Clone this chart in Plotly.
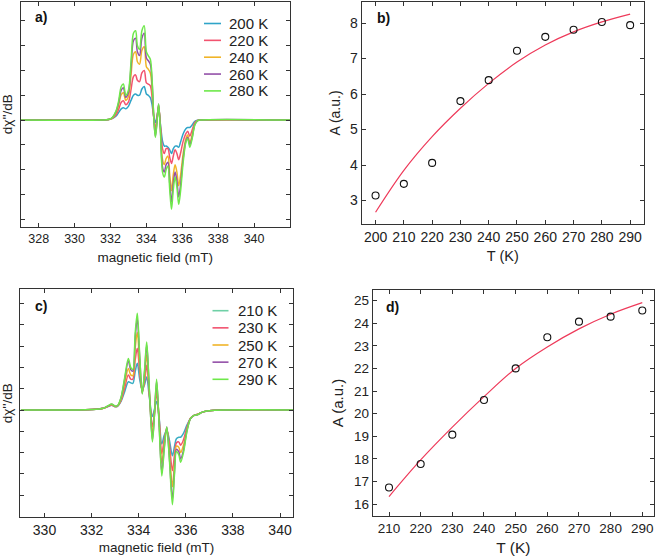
import plotly.graph_objects as go

# ---------- panel a: EPR spectra ----------
field_a = [327.0, 331.5, 331.9, 332.1, 332.3, 332.45, 332.6, 332.72, 332.85, 333.0, 333.15,
           333.28, 333.4, 333.5, 333.62, 333.75, 333.88, 334.0, 334.1, 334.22, 334.32, 334.42,
           334.5, 334.58, 334.68, 334.78, 334.9, 335.0, 335.1, 335.2, 335.3, 335.4, 335.5,
           335.6, 335.7, 335.8, 335.9, 336.05, 336.2, 336.3, 336.42, 336.55, 336.7, 336.85,
           337.0, 342.0]
a_200 = [0, 0, 0.02, 0.06, 0.15, 0.3, 0.45, 0.5, 0.45, 0.55, 0.8, 1.0, 1.05, 1.0, 1.0, 1.25,
         1.35, 1.05, 1.0, 0.9, 0.6, 0.1, -0.1, 0.1, 0.45, -0.15, -0.85, -1.05, -1.05, -1.1,
         -1.2, -1.35, -1.15, -1.05, -1.05, -1.1, -0.9, -0.55, -0.35, -0.3, -0.3, -0.2, -0.05,
         -0.01, 0, 0]
a_220 = [0, 0, 0.02, 0.07, 0.2, 0.42, 0.72, 0.78, 0.62, 0.72, 1.25, 1.75, 1.82, 1.6, 1.55,
         1.9, 2.0, 1.5, 1.45, 1.38, 0.9, 0.05, -0.35, 0.0, 0.55, -0.2, -1.15, -1.35, -1.15,
         -1.15, -1.5, -1.75, -1.45, -1.2, -1.35, -1.6, -1.35, -0.85, -0.55, -0.45, -0.65,
         -0.4, -0.1, -0.02, 0, 0]
a_240 = [0, 0, 0.02, 0.08, 0.27, 0.58, 1.02, 1.1, 0.8, 0.95, 1.85, 2.65, 2.75, 2.35, 2.25,
         2.8, 2.95, 2.15, 2.05, 1.9, 1.25, 0.0, -0.55, -0.1, 0.6, -0.3, -1.6, -1.8, -1.55,
         -1.45, -2.2, -2.85, -2.2, -1.8, -2.1, -2.65, -2.25, -1.35, -0.75, -0.6, -0.9, -0.6,
         -0.15, -0.02, 0, 0]
a_260 = [0, 0, 0.02, 0.09, 0.32, 0.68, 1.2, 1.3, 0.92, 1.1, 2.2, 3.2, 3.3, 2.75, 2.6, 3.3,
         3.5, 2.5, 2.4, 2.25, 1.5, 0.0, -0.65, -0.15, 0.65, -0.35, -1.9, -2.1, -1.8, -1.7,
         -2.55, -3.3, -2.55, -2.1, -2.45, -3.1, -2.65, -1.55, -0.85, -0.7, -1.0, -0.7, -0.18,
         -0.03, 0, 0]
a_280 = [0, 0, 0.02, 0.1, 0.35, 0.75, 1.35, 1.45, 1.0, 1.2, 2.4, 3.5, 3.6, 3.0, 2.85, 3.6,
         3.8, 2.75, 2.6, 2.45, 1.6, 0.0, -0.7, -0.2, 0.65, -0.4, -2.1, -2.3, -2.0, -1.85, -2.8,
         -3.6, -2.8, -2.3, -2.7, -3.4, -2.9, -1.7, -0.9, -0.75, -1.1, -0.75, -0.2, -0.03, 0, 0]
labels_a = ["200 K", "220 K", "240 K", "260 K", "280 K"]
series_a = [a_200, a_220, a_240, a_260, a_280]

# ---------- panel c: EPR spectra ----------
field_c = [329.0, 332.0, 332.5, 332.7, 332.85, 333.0, 333.1, 333.25, 333.4, 333.56, 333.66,
           333.75, 333.85, 333.94, 334.04, 334.15, 334.25, 334.34, 334.45, 334.58, 334.67,
           334.76, 334.87, 334.98, 335.08, 335.19, 335.3, 335.43, 335.52, 335.6, 335.7, 335.78,
           335.9, 336.05, 336.2, 336.35, 336.5, 336.7, 337.0, 340.55]
c_210 = [0, 0.02, 0.08, 0.16, 0.22, 0.15, 0.17, 0.4, 0.85, 1.33, 1.28, 1.25, 1.8, 2.2, 1.45,
         0.95, 1.2, 1.55, 0.6, -0.3, 0.05, 0.4, -0.4, -1.6, -1.2, -0.95, -1.4, -2.15, -1.7,
         -1.35, -1.28, -1.28, -1.1, -0.7, -0.4, -0.25, -0.2, -0.1, -0.03, 0]
c_230 = [0, 0.02, 0.08, 0.17, 0.24, 0.16, 0.18, 0.45, 1.02, 1.65, 1.45, 1.45, 2.35, 2.9, 1.8,
         0.87, 1.35, 2.1, 0.75, -0.8, -0.1, 0.8, -0.45, -2.05, -1.4, -0.9, -1.6, -2.85, -2.1,
         -1.55, -1.5, -1.65, -1.4, -0.8, -0.38, -0.25, -0.2, -0.1, -0.03, 0]
c_250 = [0, 0.02, 0.08, 0.18, 0.25, 0.17, 0.19, 0.5, 1.22, 1.95, 1.65, 1.62, 2.9, 3.65, 2.15,
         0.82, 1.55, 2.6, 0.85, -1.1, -0.15, 1.1, -0.6, -2.5, -1.6, -0.85, -1.9, -3.6, -2.5,
         -1.7, -1.75, -2.0, -1.65, -0.9, -0.38, -0.25, -0.2, -0.1, -0.03, 0]
c_270 = [0, 0.02, 0.08, 0.19, 0.27, 0.18, 0.2, 0.57, 1.42, 2.3, 1.9, 1.82, 3.4, 4.3, 2.5,
         0.78, 1.8, 3.05, 0.95, -1.4, -0.2, 1.35, -0.75, -2.95, -1.8, -0.8, -2.2, -4.2, -2.85,
         -1.85, -1.95, -2.3, -1.9, -0.95, -0.4, -0.25, -0.22, -0.1, -0.03, 0]
c_290 = [0, 0.02, 0.08, 0.2, 0.28, 0.18, 0.2, 0.6, 1.5, 2.42, 2.0, 1.9, 3.6, 4.55, 2.6, 0.75,
         1.9, 3.2, 1.0, -1.5, -0.2, 1.45, -0.8, -3.1, -1.9, -0.8, -2.3, -4.45, -3.0, -1.95,
         -2.1, -2.45, -2.0, -1.0, -0.4, -0.25, -0.22, -0.1, -0.03, 0]
labels_c = ["210 K", "230 K", "250 K", "270 K", "290 K"]
series_c = [c_210, c_230, c_250, c_270, c_290]

# ---------- panel b: amplitude vs T ----------
T_b = [200, 210, 220, 230, 240, 250, 260, 270, 280, 290]
A_b = [3.14, 3.47, 4.06, 5.80, 6.39, 7.22, 7.61, 7.81, 8.03, 7.94]
fit_b = [2.67, 3.85, 4.8, 5.6, 6.3, 6.9, 7.38, 7.75, 8.03, 8.25]

# ---------- panel d: amplitude vs T ----------
T_d = [210, 220, 230, 240, 250, 260, 270, 280, 290]
A_d = [16.73, 17.77, 19.07, 20.6, 22.0, 23.38, 24.07, 24.29, 24.56]
fit_d = [16.33, 17.95, 19.4, 20.75, 22.0, 22.95, 23.75, 24.4, 24.91]

colors_a = ["#2fa4c8", "#f2536f", "#f0b428", "#9350a8", "#6ee84a"]
colors_c = ["#3aaec4", "#f2536f", "#f0b428", "#9350a8", "#6ee84a"]
legend_colors_c = ["#6fd0a6", "#f2536f", "#f0b428", "#9350a8", "#6ee84a"]
fit_color = "#ee3a5a"

W, H = 661, 558
fig = go.Figure()

for ys, col in zip(series_a, colors_a):
    fig.add_trace(go.Scatter(x=field_a, y=ys, mode="lines", showlegend=False,
                             line=dict(color=col, width=1.5, shape="spline", smoothing=0.9),
                             xaxis="x", yaxis="y"))
for ys, col in zip(series_c, colors_c):
    fig.add_trace(go.Scatter(x=field_c, y=ys, mode="lines", showlegend=False,
                             line=dict(color=col, width=1.5, shape="spline", smoothing=0.9),
                             xaxis="x3", yaxis="y3"))

fig.add_trace(go.Scatter(x=T_b, y=fit_b, mode="lines", showlegend=False,
                         line=dict(color=fit_color, width=1.2, shape="spline"),
                         xaxis="x2", yaxis="y2"))
fig.add_trace(go.Scatter(x=T_b, y=A_b, mode="markers", showlegend=False,
                         marker=dict(symbol="circle-open", size=7, color="#111",
                                     line=dict(width=1.1, color="#111")),
                         xaxis="x2", yaxis="y2"))
fig.add_trace(go.Scatter(x=T_d, y=fit_d, mode="lines", showlegend=False,
                         line=dict(color=fit_color, width=1.2, shape="spline"),
                         xaxis="x4", yaxis="y4"))
fig.add_trace(go.Scatter(x=T_d, y=A_d, mode="markers", showlegend=False,
                         marker=dict(symbol="circle-open", size=7, color="#111",
                                     line=dict(width=1.1, color="#111")),
                         xaxis="x4", yaxis="y4"))

FONT = "Liberation Sans, Arial, sans-serif"

def tf(size):
    return dict(family=FONT, size=size, color="#222")

def ax(fs, **kw):
    base = dict(showline=True, linecolor="#333", linewidth=1, mirror="ticks",
                ticks="inside", ticklen=4, tickcolor="#333", showgrid=False,
                zeroline=False, tickfont=tf(fs), automargin=False)
    base.update(kw)
    return base

def px_dom_x(l, r):
    return [l / W, r / W]

def px_dom_y(t, b):
    return [1 - b / H, 1 - t / H]

shapes = []
annotations = []

# manual legends (line sample + label), positions in pixels of the page
def add_legend(labels, colors, line_x0, line_x1, text_x, row0, step):
    for i, (lab, col) in enumerate(zip(labels, colors)):
        yy = 1 - (row0 + i * step) / H
        shapes.append(dict(type="line", xref="paper", yref="paper",
                           x0=line_x0 / W, x1=line_x1 / W, y0=yy, y1=yy,
                           line=dict(color=col, width=1.6)))
        annotations.append(dict(text=lab, x=text_x / W, y=yy, xref="paper", yref="paper",
                                showarrow=False, xanchor="left", yanchor="middle",
                                font=tf(15)))

add_legend(labels_a, colors_a, 204, 221, 227, 23.5, 16.85)
add_legend(labels_c, legend_colors_c, 212.5, 228.5, 236, 310.7, 17.15)

for txt, x, y in [("a)", 33, 17), ("b)", 375, 18), ("c)", 33, 306), ("d)", 384, 307)]:
    annotations.append(dict(text="<b>%s</b>" % txt, x=x / W, y=1 - y / H, xref="paper",
                            yref="paper", showarrow=False, xanchor="left", yanchor="middle",
                            font=dict(family=FONT, size=14, color="#111")))

fig.update_layout(
    width=W, height=H,
    margin=dict(l=0, r=0, t=0, b=0),
    paper_bgcolor="white", plot_bgcolor="white",
    font=dict(family=FONT, color="#222"),
    showlegend=False,
    xaxis=ax(12.5, domain=px_dom_x(20.7, 290), range=[327, 342],
             tickvals=[328, 330, 332, 334, 336, 338, 340], anchor="y",
             title=dict(text="magnetic field (mT)", font=tf(13.5), standoff=7)),
    yaxis=ax(12.5, domain=px_dom_y(1.7, 226.7), range=[-4.3, 4.77], dtick=1, tick0=0,
             showticklabels=False, anchor="x",
             title=dict(text="dχ''/dB", font=tf(13.5), standoff=4)),
    xaxis2=ax(14, domain=px_dom_x(361.7, 644), range=[195.1, 294.9], tickvals=T_b, anchor="y2",
              title=dict(text="T (K)", font=tf(14.5), standoff=6)),
    yaxis2=ax(14, domain=px_dom_y(1.7, 224.3), range=[2.33, 8.6], dtick=1, anchor="x2",
              title=dict(text="A (a.u.)", font=tf(14), standoff=6)),
    xaxis3=ax(14, domain=px_dom_x(20, 293), range=[328.96, 340.55],
              tickvals=[330, 332, 334, 336, 338, 340], anchor="y3",
              title=dict(text="magnetic field (mT)", font=tf(13.5), standoff=5)),
    yaxis3=ax(14, domain=px_dom_y(289.3, 517.3), range=[-5.04, 5.67], dtick=1, tick0=0,
              showticklabels=False, anchor="x3",
              title=dict(text="dχ''/dB", font=tf(13.5), standoff=4)),
    xaxis4=ax(13.5, domain=px_dom_x(372.7, 654), range=[204.85, 293.7], tickvals=T_d, anchor="y4",
              title=dict(text="T (K)", font=tf(15.5), standoff=6)),
    yaxis4=ax(13.5, domain=px_dom_y(290, 516), range=[15.47, 25.47], dtick=1, anchor="x4",
              title=dict(text="A (a.u.)", font=tf(15), standoff=6)),
    shapes=shapes,
    annotations=annotations,
)

fig.write_html("out.html", config={"displayModeBar": False},
               post_script="document.body.style.margin='0';")
